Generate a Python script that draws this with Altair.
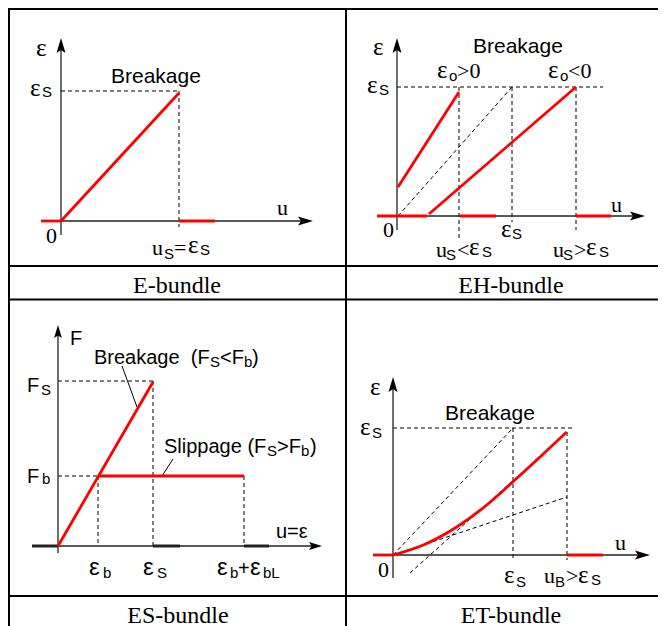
import altair as alt
import pandas as pd

# ---------------- diagram geometry (diagram units, y grows downward) ----------------
# table frame
frame_lines = [
    (8, 9, 666, 9), (8, 266, 666, 266), (8, 299.5, 666, 299.5), (8, 596, 666, 596),
    (9, 9, 9, 626), (346, 9, 346, 626),
]
# coordinate axes of the four sketches
axis_lines = [
    (61, 235, 61, 42), (61, 221, 309, 221),
    (397, 230, 397, 42), (397, 216, 641, 216),
    (58, 553, 58, 329), (58, 546, 318, 546),
    (393, 578, 393, 381), (393, 555, 646, 555),
]
arrow_up_tips = [(61, 38), (397, 38), (393, 377)]
arrow_right_tips = [(313, 221), (645, 216), (650, 555)]
small_arrow_up_tips = [(58, 325)]
small_arrow_right_tips = [(322, 546)]

# red response curves
red_lines = [
    (41, 221, 61, 221), (61, 221, 179, 93), (179, 221, 215, 221),
    (377, 216, 427, 216), (460, 216, 496, 216), (576, 216, 611, 216),
    (398, 187, 459, 92), (429, 214, 576, 87),
    (58, 546, 153, 382), (98, 476, 244, 476),
    (373, 555, 393, 555), (567, 555, 603, 555),
]
et_curve_x = [393.3, 423.3, 456.7, 486.7, 512.7, 540.0, 566.7]
et_curve_y = [555, 545, 527, 505, 482, 457, 432]

# dashed guide lines
dash_lines = [
    (61, 91, 179, 91), (179, 91, 179, 227),
    (398, 216, 512, 87), (397, 87, 603, 87),
    (459, 87, 459, 240), (512, 87, 512, 222), (576, 87, 576, 230),
    (58, 381, 153, 381), (153, 381, 153, 546), (58, 476, 98, 476),
    (98, 476, 98, 546), (244, 476, 244, 546),
    (393, 428, 575, 428), (513, 428, 513, 560), (567, 432, 567, 560),
    (393, 555, 513, 428), (410, 573, 567, 432), (393, 555, 567, 497),
]
# heavy dark segments on the ES-bundle axis
heavy_lines = [(32, 546, 58, 546), (153, 546, 180, 546), (244, 546, 269, 546)]
# leader lines of the ES-bundle annotations
leader_lines = [(122, 366, 137, 407), (173, 459, 162, 476)]

# ---------------- labels ----------------
greek_labels = [
    ("ε", 36, 56), ("ε", 30, 96), ("ε", 188, 253),
    ("ε", 373, 55), ("ε", 367, 93), ("ε", 437, 78), ("ε", 548, 78),
    ("ε", 501, 237), ("ε", 469, 255), ("ε", 586, 255),
    ("ε", 370, 395), ("ε", 360, 435), ("ε", 504, 583), ("ε", 578, 583),
]
serif_labels = [
    ("0", 46, 243), ("u", 277, 215), ("u", 152, 255), ("=", 174, 255),
    (">0", 457, 78), ("<0", 568, 78), ("0", 383, 237), ("u", 611, 212),
    ("u", 436, 257), ("<", 457, 257), ("u", 553, 257), (">", 574, 257),
    ("0", 378, 577), ("u", 615, 550), ("u", 544, 583), (">", 566, 583),
]
sub_labels = [
    ("S", 42, 97), ("S", 164, 259), ("S", 200, 255),
    ("S", 379, 95), ("o", 449, 81), ("o", 560, 81), ("S", 512, 239),
    ("S", 446, 260), ("S", 482, 257), ("S", 563, 260), ("S", 599, 257),
    ("S", 41, 395), ("b", 42, 484), ("S", 210, 367), ("b", 244, 367),
    ("S", 267, 456), ("b", 301, 456), ("b", 103, 578), ("S", 157, 578),
    ("b", 230, 578), ("bL", 263, 578),
    ("S", 372, 438), ("S", 516, 587), ("B", 555, 587), ("S", 591, 585),
]
title_labels = [("Breakage", 111, 83), ("Breakage", 473, 53), ("Breakage", 445, 420)]
sans_labels = [
    ("F", 70, 345), ("Breakage\u00a0\u00a0(F", 94, 364), ("<F", 220, 364), (")", 252, 364),
    ("F", 27, 392), ("F", 27, 483),
    ("Slippage (F", 164, 453), (">F", 277, 453), (")", 310, 453),
    ("u=ε", 276, 538), ("+", 238, 575),
]
sans_greek = [("ε", 89, 575), ("ε", 143, 575), ("ε", 217, 575), ("ε", 250, 575)]
captions = [("E-bundle", 177, 293), ("EH-bundle", 511, 293),
            ("ES-bundle", 178, 623), ("ET-bundle", 511, 623)]

# ---------------- chart ----------------
XS = alt.Scale(domain=[8, 658], nice=False, zero=False)
YS = alt.Scale(domain=[8, 626], nice=False, zero=False, reverse=True)


def xy():
    return dict(x=alt.X("x:Q", scale=XS, axis=None), y=alt.Y("y:Q", scale=YS, axis=None))


def rules(segs, **kw):
    df = pd.DataFrame(segs, columns=["x", "y", "x2", "y2"])
    return alt.Chart(df).mark_rule(**kw).encode(**xy(), x2="x2:Q", y2="y2:Q")


def texts(items, font, size, align="left"):
    df = pd.DataFrame(items, columns=["t", "x", "y"])
    return alt.Chart(df).mark_text(
        font=font, fontSize=size, align=align, baseline="alphabetic", color="black"
    ).encode(**xy(), text="t:N")


ARROW = "M0,0L-0.3,1L0,0.8L0.3,1Z"


def arrows(tips, angle, size=900):
    df = pd.DataFrame(tips, columns=["x", "y"])
    return alt.Chart(df).mark_point(
        shape=ARROW, size=size, filled=True, color="black", opacity=1,
        strokeWidth=0, angle=angle
    ).encode(**xy())


curve_df = pd.DataFrame({"x": et_curve_x, "y": et_curve_y, "o": range(len(et_curve_x))})
curve = alt.Chart(curve_df).mark_line(
    color="#ff0000", strokeWidth=2.8, interpolate="monotone"
).encode(**xy(), order="o:Q")

chart = alt.layer(
    rules(frame_lines, color="black", strokeWidth=2),
    rules(dash_lines, color="black", strokeWidth=1, strokeDash=[4, 3]),
    rules(axis_lines, color="#222222", strokeWidth=1.3),
    rules(heavy_lines, color="#222222", strokeWidth=3),
    rules(leader_lines, color="black", strokeWidth=1),
    rules(red_lines, color="#ff0000", strokeWidth=2.8),
    curve,
    arrows(arrow_up_tips, 0),
    arrows(arrow_right_tips, 90),
    arrows(small_arrow_up_tips, 0, 676),
    arrows(small_arrow_right_tips, 90, 676),
    texts(greek_labels, "Liberation Serif", 25),
    texts(serif_labels, "Liberation Serif", 22),
    texts(sub_labels, "Liberation Sans", 15),
    texts(title_labels, "Liberation Sans", 21),
    texts(sans_labels, "Liberation Sans", 20),
    texts(sans_greek, "Liberation Sans", 24),
    texts(captions, "Liberation Serif", 24, align="center"),
).properties(
    width=650, height=618, padding=0,
    autosize=alt.AutoSizeParams(type="none"),
).configure_view(strokeWidth=0)

chart.save("out.html", embed_options={"renderer": "svg", "actions": False})
